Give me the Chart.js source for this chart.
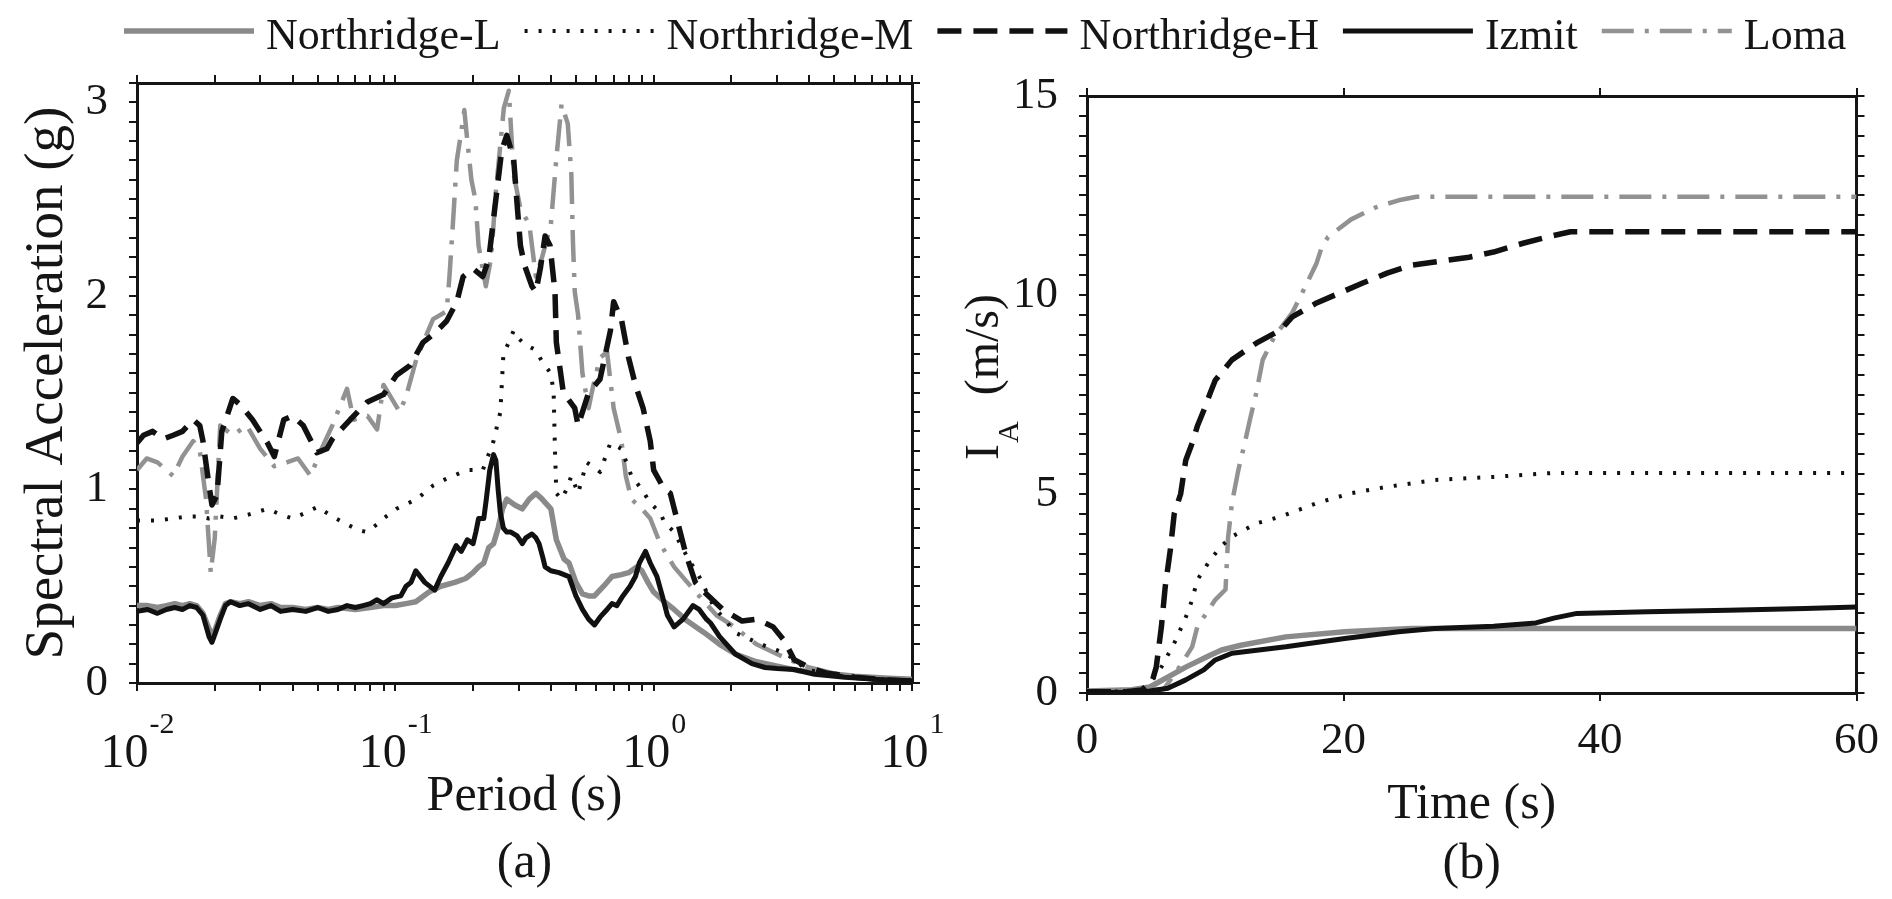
<!DOCTYPE html>
<html>
<head>
<meta charset="utf-8">
<script src="https://cdn.jsdelivr.net/npm/chart.js@4.4.1/dist/chart.umd.min.js"></script>
<style>
  html, body { margin: 0; padding: 0; background: #fff; overflow: hidden; }
  #fig { position: relative; width: 1892px; height: 899px; background: #fff; }
  #spectra { position: absolute; left: 0; top: 0; }
  #arias { position: absolute; left: 960px; top: 0; }
</style>
</head>
<body>
<div id="fig">
  <canvas id="spectra" width="1892" height="899"></canvas>
  <canvas id="arias" width="932" height="899"></canvas>
</div>
<script>
const serif = '"Liberation Serif", "Times New Roman", Times, serif';
const ink = '#151515';

const seriesNames = ['Northridge-L', 'Northridge-M', 'Northridge-H', 'Izmit', 'Loma'];

// ---- (a) spectral acceleration (g) vs period (s) ----
const nrlT = [0.01, 0.011, 0.012, 0.013, 0.014, 0.015, 0.016, 0.017, 0.018, 0.019,
  0.0195, 0.02, 0.021, 0.022, 0.023, 0.025, 0.027, 0.03, 0.033, 0.036,
  0.04, 0.045, 0.05, 0.055, 0.06, 0.07, 0.08, 0.09, 0.1, 0.11,
  0.12, 0.135, 0.15, 0.17, 0.187, 0.2, 0.21, 0.22, 0.23, 0.24,
  0.25, 0.26, 0.27, 0.29, 0.31, 0.33, 0.35, 0.37, 0.4, 0.42,
  0.45, 0.47, 0.5, 0.53, 0.56, 0.59, 0.64, 0.69, 0.75, 0.8,
  0.86, 0.9, 0.95, 1.0, 1.1, 1.2, 1.35, 1.57, 1.8, 2.07,
  2.5, 3.04, 3.6, 4.66, 6, 8.1, 10];
const nrlSa = [0.40, 0.40, 0.39, 0.40, 0.41, 0.40, 0.41, 0.40, 0.36, 0.28,
  0.25, 0.27, 0.35, 0.41, 0.42, 0.41, 0.42, 0.40, 0.41, 0.39,
  0.39, 0.38, 0.39, 0.38, 0.39, 0.38, 0.39, 0.40, 0.40, 0.41,
  0.42, 0.47, 0.50, 0.52, 0.54, 0.57, 0.60, 0.62, 0.70, 0.72,
  0.80, 0.90, 0.95, 0.92, 0.90, 0.95, 0.98, 0.95, 0.90, 0.74,
  0.64, 0.62, 0.52, 0.46, 0.45, 0.45, 0.50, 0.55, 0.56, 0.57,
  0.60, 0.58, 0.52, 0.47, 0.42, 0.38, 0.32, 0.26, 0.20, 0.15,
  0.11, 0.085, 0.065, 0.05, 0.035, 0.025, 0.02];

const nrmT = [0.01, 0.0106, 0.012, 0.0138, 0.0155, 0.0175, 0.019, 0.021, 0.0235, 0.027,
  0.032, 0.036, 0.04, 0.045, 0.05, 0.057, 0.065, 0.072, 0.0776, 0.085,
  0.09, 0.101, 0.121, 0.14, 0.16, 0.19, 0.218, 0.24, 0.255, 0.262,
  0.275, 0.287, 0.3, 0.317, 0.35, 0.37, 0.4, 0.41, 0.415, 0.42,
  0.44, 0.46, 0.48, 0.51, 0.55, 0.58, 0.62, 0.68, 0.75, 0.82,
  0.9, 0.97, 1.06, 1.1, 1.2, 1.35, 1.5, 1.7, 2.07, 2.6,
  3.0, 3.35, 3.9, 5, 7, 10];
const nrmSa = [0.84, 0.84, 0.84, 0.85, 0.86, 0.86, 0.85, 0.86, 0.85, 0.87,
  0.90, 0.87, 0.85, 0.88, 0.91, 0.86, 0.82, 0.79, 0.78, 0.82,
  0.85, 0.90, 0.95, 1.02, 1.06, 1.10, 1.10, 1.25, 1.40, 1.70,
  1.76, 1.82, 1.78, 1.75, 1.72, 1.66, 1.60, 1.50, 1.20, 0.98,
  0.95, 1.00, 1.07, 0.98, 1.14, 1.12, 1.09, 1.24, 1.21, 1.07,
  1.00, 0.93, 0.88, 0.83, 0.78, 0.65, 0.55, 0.40, 0.26, 0.20,
  0.17, 0.14, 0.07, 0.04, 0.02, 0.01];

const nrhT = [0.01, 0.0106, 0.0115, 0.0126, 0.0138, 0.015, 0.0165, 0.0175, 0.018, 0.019,
  0.0195, 0.0204, 0.0213, 0.0235, 0.025, 0.028, 0.032, 0.034, 0.037, 0.04,
  0.044, 0.0497, 0.0543, 0.057, 0.0668, 0.0776, 0.09, 0.101, 0.114, 0.128,
  0.14, 0.158, 0.173, 0.183, 0.2, 0.218, 0.23, 0.245, 0.258, 0.27,
  0.287, 0.297, 0.305, 0.316, 0.338, 0.35, 0.365, 0.38, 0.397, 0.415,
  0.42, 0.447, 0.495, 0.51, 0.56, 0.62, 0.68, 0.7, 0.75, 0.8,
  0.85, 0.91, 0.97, 1.0, 1.1, 1.16, 1.25, 1.33, 1.45, 1.57,
  1.85, 2.2, 2.5, 2.9, 3.2, 3.5, 4.0, 4.7, 6, 8, 10];
const nrhSa = [1.24, 1.28, 1.30, 1.26, 1.28, 1.30, 1.36, 1.33, 1.25, 1.02,
  0.92, 0.97, 1.30, 1.47, 1.44, 1.36, 1.24, 1.17, 1.36, 1.38,
  1.33, 1.19, 1.21, 1.26, 1.36, 1.45, 1.49, 1.59, 1.64, 1.76,
  1.80, 1.87, 1.97, 2.10, 2.14, 2.10, 2.19, 2.50, 2.75, 2.83,
  2.71, 2.45, 2.26, 2.16, 2.05, 2.02, 2.15, 2.31, 2.26, 2.02,
  1.76, 1.50, 1.42, 1.33, 1.50, 1.57, 1.82, 1.97, 1.88, 1.68,
  1.54, 1.42, 1.25, 1.10, 1.00, 0.98, 0.81, 0.67, 0.52, 0.47,
  0.38, 0.32, 0.33, 0.29, 0.22, 0.12, 0.08, 0.05, 0.03, 0.015, 0.01];

const izmitT = [0.01, 0.011, 0.012, 0.013, 0.014, 0.015, 0.016, 0.017, 0.018, 0.019,
  0.0195, 0.02, 0.021, 0.022, 0.023, 0.025, 0.027, 0.03, 0.033, 0.036,
  0.04, 0.045, 0.05, 0.055, 0.06, 0.065, 0.07, 0.075, 0.08, 0.085,
  0.09, 0.097, 0.105, 0.11, 0.115, 0.12, 0.13, 0.142, 0.15, 0.16,
  0.172, 0.18, 0.19, 0.2, 0.205, 0.21, 0.22, 0.225, 0.232, 0.24,
  0.245, 0.25, 0.255, 0.262, 0.27, 0.28, 0.296, 0.31, 0.32, 0.338,
  0.35, 0.36, 0.372, 0.38, 0.4, 0.43, 0.47, 0.5, 0.53, 0.56,
  0.59, 0.62, 0.66, 0.69, 0.72, 0.76, 0.81, 0.85, 0.88, 0.93,
  0.97, 1.03, 1.08, 1.13, 1.2, 1.3, 1.42, 1.5, 1.6, 1.66,
  1.8, 2.07, 2.4, 2.7, 3, 3.5, 4.2, 5.5, 7, 10];
const izmitSa = [0.37, 0.38, 0.36, 0.38, 0.39, 0.38, 0.40, 0.39, 0.35, 0.24,
  0.21, 0.25, 0.33, 0.40, 0.42, 0.40, 0.41, 0.38, 0.40, 0.37,
  0.38, 0.37, 0.39, 0.37, 0.38, 0.40, 0.39, 0.40, 0.41, 0.43,
  0.41, 0.44, 0.45, 0.50, 0.52, 0.58, 0.52, 0.48, 0.55, 0.62,
  0.71, 0.68, 0.74, 0.72, 0.78, 0.85, 0.85, 0.95, 1.10, 1.18,
  1.15, 1.00, 0.88, 0.80, 0.78, 0.78, 0.76, 0.72, 0.75, 0.77,
  0.75, 0.72, 0.65, 0.60, 0.58, 0.57, 0.55, 0.45, 0.38, 0.33,
  0.30, 0.34, 0.38, 0.41, 0.40, 0.45, 0.50, 0.55, 0.62, 0.68,
  0.62, 0.55, 0.45, 0.35, 0.29, 0.33, 0.40, 0.38, 0.33, 0.31,
  0.24, 0.15, 0.10, 0.08, 0.075, 0.07, 0.045, 0.03, 0.02, 0.01];

const lomaT = [0.01, 0.0109, 0.012, 0.0138, 0.015, 0.0165, 0.0175, 0.0185, 0.0193, 0.02,
  0.021, 0.0235, 0.0266, 0.03, 0.034, 0.038, 0.042, 0.047, 0.051, 0.057,
  0.065, 0.069, 0.078, 0.085, 0.09, 0.104, 0.11, 0.121, 0.14, 0.158,
  0.162, 0.167, 0.173, 0.18, 0.185, 0.19, 0.197, 0.204, 0.21, 0.224,
  0.235, 0.245, 0.263, 0.275, 0.287, 0.305, 0.33, 0.35, 0.37, 0.4,
  0.42, 0.44, 0.465, 0.48, 0.487, 0.495, 0.51, 0.53, 0.56, 0.58,
  0.62, 0.66, 0.7, 0.75, 0.78, 0.82, 0.9, 0.97, 1.06, 1.2,
  1.35, 1.5, 1.75, 2.0, 2.5, 3.0, 3.5, 4.0, 5, 6, 8, 10];
const lomaSa = [1.10, 1.16, 1.14, 1.07, 1.17, 1.25, 1.20, 0.95, 0.57, 0.75,
  1.33, 1.28, 1.33, 1.21, 1.12, 1.14, 1.16, 1.07, 1.19, 1.33,
  1.52, 1.36, 1.38, 1.31, 1.54, 1.40, 1.48, 1.68, 1.88, 1.92,
  2.10, 2.37, 2.70, 2.85, 2.96, 2.80, 2.60, 2.50, 2.26, 2.05,
  2.20, 2.54, 2.97, 3.06, 2.63, 2.45, 2.37, 2.10, 2.20, 2.37,
  2.71, 2.99, 2.89, 2.63, 2.28, 2.02, 1.90, 1.60, 1.42, 1.52,
  1.68, 1.71, 1.42, 1.25, 1.07, 0.95, 0.90, 0.85, 0.72, 0.60,
  0.52, 0.45, 0.35, 0.30, 0.20, 0.15, 0.11, 0.08, 0.05, 0.03, 0.02, 0.01];

// ---- (b) Arias intensity (m/s) vs time (s) ----
const nrlTime = [0, 3.5, 4.9, 6.3, 7.7, 9.6, 10.5, 12, 15.5, 20.1, 25.3, 60];
const nrlIa = [0.05, 0.08, 0.15, 0.4, 0.65, 0.95, 1.08, 1.2, 1.41, 1.54, 1.62, 1.62];

const nrmTime = [0, 4, 4.9, 5.8, 6.8, 7.7, 8.2, 8.6, 9.6, 10.5, 11.3, 13.2, 15.1, 17.9, 20.6, 23.4, 27.1, 31.7, 36.4, 60];
const nrmIa = [0.02, 0.05, 0.25, 0.65, 1.25, 1.9, 2.34, 2.84, 3.34, 3.7, 3.93, 4.26, 4.43, 4.77, 5.02, 5.18, 5.35, 5.43, 5.53, 5.53];

const nrhTime = [0, 3, 4.5, 5, 5.4, 5.8, 6.1, 6.5, 6.8, 7.3, 7.7, 8.2, 8.6, 9.1, 9.6, 10, 11.3, 13.2, 15.1, 16,
  17.9, 19.7, 21.5, 23.4, 25.3, 27.1, 29.8, 31.7, 34, 35.9, 37.7, 60];
const nrhIa = [0.03, 0.03, 0.08, 0.2, 0.65, 1.66, 2.67, 3.6, 4.5, 5.0, 5.85, 6.28, 6.7, 7.1, 7.53, 7.86, 8.37, 8.79, 9.12, 9.45,
  9.8, 10.05, 10.3, 10.55, 10.75, 10.83, 10.95, 11.08, 11.3, 11.46, 11.59, 11.59];

const izmitTime = [0, 3, 4.9, 6.3, 7.7, 9.1, 10, 11.3, 15.5, 20.1, 24.3, 27.1, 31.7, 35, 36.4, 38.2, 43.7, 50, 56, 60];
const izmitIa = [0, 0.02, 0.05, 0.12, 0.33, 0.58, 0.83, 1.0, 1.16, 1.37, 1.54, 1.62, 1.68, 1.76, 1.88, 2.0, 2.04, 2.08, 2.12, 2.16];

const lomaTime = [0, 4, 6, 7.2, 8.2, 8.6, 10, 10.8, 11.0, 11.3, 11.8, 12.3, 12.7, 13.2, 13.7, 14.6, 16, 17, 17.9, 18.3,
  18.8, 20.6, 22.5, 24.3, 25.7, 60];
const lomaIa = [0.02, 0.03, 0.1, 0.65, 1.16, 1.66, 2.34, 2.6, 3.9, 4.77, 5.6, 6.28, 6.86, 7.54, 8.37, 8.95, 9.55, 10.2, 10.8, 11.2,
  11.46, 11.9, 12.2, 12.38, 12.47, 12.47];

// axis ticks
const periodDecades = [0.01, 0.1, 1, 10];
const decadeExponents = ['-2', '-1', '0', '1'];
const minorSteps = [1, 2, 3, 4, 5, 6, 7, 8, 9];
const timeTicks = [0, 20, 40, 60];

const lineStyles = {
  'Northridge-L': { borderColor: '#8a8a8a', borderWidth: 5.5, borderDash: [] },
  'Northridge-M': { borderColor: '#111', borderWidth: 4, borderDash: [3, 11] },
  'Northridge-H': { borderColor: '#111', borderWidth: 5.5, borderDash: [24, 12] },
  'Izmit': { borderColor: '#111', borderWidth: 5, borderDash: [] },
  'Loma': { borderColor: '#929292', borderWidth: 4.5, borderDash: [32, 11, 4, 11] }
};
// lower order is painted last (on top)
const paintOrder = { 'Izmit': 0, 'Northridge-H': 1, 'Northridge-M': 2, 'Loma': 3, 'Northridge-L': 4 };

function makeDatasets(xsList, ysList) {
  return seriesNames.map((name, i) => Object.assign({
    label: name,
    data: xsList[i].map((x, k) => ({ x: x, y: ysList[i][k] })),
    order: paintOrder[name],
    pointRadius: 0,
    tension: 0,
    fill: false,
    borderJoinStyle: 'round',
    borderCapStyle: 'butt'
  }, lineStyles[name]));
}

// periods at 1..9 x each decade, plus 10
const periodTicks = [];
periodDecades.slice(0, 3).forEach(d => minorSteps.forEach(m => periodTicks.push(+(d * m).toPrecision(3))));
periodTicks.push(10);

const isWhole = v => Math.abs(v - Math.round(v)) < 1e-6;

function frameGrid() {
  return { display: true, drawOnChartArea: false, drawTicks: true, tickLength: 8, color: ink, lineWidth: 2 };
}
function frameBorder() {
  return { display: true, color: ink, width: 3 };
}

Chart.defaults.font.family = serif;
Chart.defaults.color = ink;

// legend row across the top of the figure
const topLegend = {
  id: 'topLegend',
  afterDraw(chart) {
    const ctx = chart.ctx;
    const sample = 130, gapText = 12, gapItem = 24;
    let x = 124;
    ctx.save();
    ctx.font = '44px ' + serif;
    ctx.textBaseline = 'middle';
    chart.data.datasets.forEach(ds => {
      ctx.strokeStyle = ds.borderColor;
      ctx.lineWidth = ds.borderWidth;
      ctx.setLineDash(ds.borderDash || []);
      ctx.beginPath();
      ctx.moveTo(x, 31);
      ctx.lineTo(x + sample, 31);
      ctx.stroke();
      ctx.setLineDash([]);
      x += sample + gapText;
      ctx.fillStyle = ink;
      ctx.fillText(ds.label, x, 37);
      x += ctx.measureText(ds.label).width + gapItem;
    });
    ctx.restore();
  }
};

// "10" with superscript exponent under each decade
const decadeLabels = {
  id: 'decadeLabels',
  afterDraw(chart) {
    const sc = chart.scales.x;
    const ctx = chart.ctx;
    ctx.save();
    ctx.fillStyle = ink;
    ctx.textBaseline = 'alphabetic';
    ctx.textAlign = 'left';
    periodDecades.forEach((v, i) => {
      const px = sc.getPixelForValue(v);
      ctx.font = '48px ' + serif;
      const wBase = ctx.measureText('10').width;
      ctx.font = '30px ' + serif;
      const wExp = ctx.measureText(decadeExponents[i]).width;
      const left = px - (wBase + wExp) / 2;
      ctx.font = '48px ' + serif;
      ctx.fillText('10', left, sc.top + 84);
      ctx.font = '30px ' + serif;
      ctx.fillText(decadeExponents[i], left + wBase + 1, sc.top + 50);
    });
    ctx.restore();
  }
};

// I_A (m/s) with subscript, rotated
const iaTitle = {
  id: 'iaTitle',
  afterDraw(chart) {
    const ctx = chart.ctx;
    const area = chart.chartArea;
    const big = '48px ' + serif, small = '30px ' + serif;
    ctx.save();
    ctx.font = big;
    const wI = ctx.measureText('I').width;
    const wRest = ctx.measureText('(m/s)').width;
    ctx.font = small;
    const wA = ctx.measureText('A').width;
    const gap = 26;
    const total = wI + wA + gap + wRest;
    ctx.translate(38, (area.top + area.bottom) / 2 - 17);
    ctx.rotate(-Math.PI / 2);
    ctx.fillStyle = ink;
    ctx.textBaseline = 'alphabetic';
    let x = -total / 2;
    ctx.font = big;
    ctx.fillText('I', x, 0);
    x += wI + 1;
    ctx.font = small;
    ctx.fillText('A', x, 20);
    x += wA + gap;
    ctx.font = big;
    ctx.fillText('(m/s)', x, 0);
    ctx.restore();
  }
};

const common = {
  responsive: false,
  animation: false,
  events: [],
  layout: { padding: 0, autoPadding: false },
  plugins: { legend: { display: false }, tooltip: { enabled: false } }
};

function logAxis(position, size) {
  return {
    type: 'logarithmic', position: position, min: 0.01, max: 10,
    afterBuildTicks: s => { s.ticks = periodTicks.map(v => ({ value: v })); },
    afterFit: s => { s.height = size; },
    grid: frameGrid(), border: frameBorder(),
    ticks: { display: false, autoSkip: false }
  };
}

// ---------- chart (a) ----------
const saX = logAxis('bottom', 899 - 683);
saX.title = {
  display: true, text: ['Period (s)', '(a)'], color: ink,
  font: { family: serif, size: 50, lineHeight: 1.34 }, padding: { top: 0, bottom: 2 }
};

new Chart(document.getElementById('spectra'), {
  type: 'line',
  data: {
    datasets: makeDatasets([nrlT, nrmT, nrhT, izmitT, lomaT], [nrlSa, nrmSa, nrhSa, izmitSa, lomaSa])
  },
  options: Object.assign({}, common, {
    scales: {
      x: saX,
      xTop: logAxis('top', 83),
      y: {
        type: 'linear', position: 'left', min: 0, max: 3.1,
        afterFit: s => { s.width = 137; },
        grid: frameGrid(), border: frameBorder(),
        ticks: {
          stepSize: 0.1, autoSkip: false, padding: 21, color: ink,
          font: { family: serif, size: 45 },
          callback: v => isWhole(v) ? String(Math.round(v)) : ''
        },
        title: {
          display: true, text: 'Spectral Acceleration (g)', color: ink,
          font: { family: serif, size: 55, lineHeight: 1.2 }, padding: { top: 15, bottom: 0 }
        }
      },
      yRight: {
        type: 'linear', position: 'right', min: 0, max: 3.1,
        afterFit: s => { s.width = 1892 - 912; },
        grid: frameGrid(), border: frameBorder(),
        ticks: { display: false, stepSize: 0.1, autoSkip: false }
      }
    }
  }),
  plugins: [topLegend, decadeLabels]
});

// ---------- chart (b) ----------
new Chart(document.getElementById('arias'), {
  type: 'line',
  data: {
    datasets: makeDatasets([nrlTime, nrmTime, nrhTime, izmitTime, lomaTime], [nrlIa, nrmIa, nrhIa, izmitIa, lomaIa])
  },
  options: Object.assign({}, common, {
    scales: {
      x: {
        type: 'linear', position: 'bottom', min: 0, max: 60,
        afterBuildTicks: s => { s.ticks = timeTicks.map(v => ({ value: v })); },
        afterFit: s => { s.height = 899 - 693; },
        grid: frameGrid(), border: frameBorder(),
        ticks: { autoSkip: false, padding: 13, color: ink, font: { family: serif, size: 45 }, maxRotation: 0 },
        title: {
          display: true, text: ['Time (s)', '(b)'], color: ink,
          font: { family: serif, size: 50, lineHeight: 1.2 }, padding: { top: 0, bottom: 4 }
        }
      },
      xTop: {
        type: 'linear', position: 'top', min: 0, max: 60,
        afterBuildTicks: s => { s.ticks = timeTicks.map(v => ({ value: v })); },
        afterFit: s => { s.height = 96; },
        grid: frameGrid(), border: frameBorder(),
        ticks: { display: false, autoSkip: false }
      },
      y: {
        type: 'linear', position: 'left', min: 0, max: 15,
        afterFit: s => { s.width = 127; },
        grid: frameGrid(), border: frameBorder(),
        ticks: {
          stepSize: 0.5, autoSkip: false, padding: 21, color: ink,
          font: { family: serif, size: 45 },
          callback: v => (isWhole(v) && Math.round(v) % 5 === 0) ? String(Math.round(v)) : ''
        }
      },
      yRight: {
        type: 'linear', position: 'right', min: 0, max: 15,
        afterFit: s => { s.width = 932 - 899; },
        grid: frameGrid(), border: frameBorder(),
        ticks: { display: false, stepSize: 0.5, autoSkip: false }
      }
    }
  }),
  plugins: [iaTitle]
});
</script>
</body>
</html>
